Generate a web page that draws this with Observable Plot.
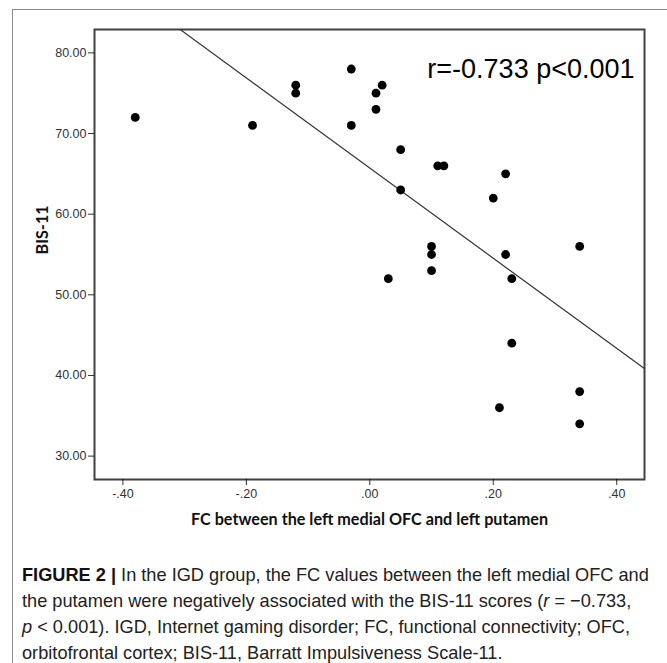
<!DOCTYPE html>
<html><head><meta charset="utf-8">
<script src="https://cdn.jsdelivr.net/npm/d3@7"></script>
<script src="https://cdn.jsdelivr.net/npm/@observablehq/plot@0.6"></script>
<style>
html,body{margin:0;padding:0;background:#fff;}
#wrap{position:relative;width:667px;height:663px;overflow:hidden;background:#fff;}
#frame{position:absolute;left:12px;top:9px;right:-5px;bottom:-5px;border-top:1.5px solid #8c8c8c;border-left:1.5px solid #8c8c8c;}
#chart{position:absolute;left:0;top:0;}
#caption{position:absolute;left:22px;top:562px;font-family:"Liberation Sans",Arial,sans-serif;font-size:18.2px;line-height:26px;color:#222;white-space:nowrap;}
#caption b{color:#111;}
</style></head><body>
<div id="wrap">
<div id="frame"></div>
<div id="chart"></div>
<div id="caption">
<div><b>FIGURE 2 |</b> In the IGD group, the FC values between the left medial OFC and</div>
<div>the putamen were negatively associated with the BIS-11 scores (<i>r</i> = −0.733,</div>
<div><i>p</i> &lt; 0.001). IGD, Internet gaming disorder; FC, functional connectivity; OFC,</div>
<div>orbitofrontal cortex; BIS-11, Barratt Impulsiveness Scale-11.</div>
</div>
</div>
<script>
const fcValues  = [-0.38, -0.19, -0.12, -0.12, -0.03, -0.03, 0.01, 0.01, 0.02, 0.05, 0.05, 0.03, 0.10, 0.10, 0.10, 0.11, 0.12, 0.20, 0.22, 0.22, 0.23, 0.23, 0.21, 0.34, 0.34, 0.34];
const bisScores = [72, 71, 76, 75, 78, 71, 75, 73, 76, 68, 63, 52, 56, 55, 53, 66, 66, 62, 65, 55, 52, 44, 36, 56, 38, 34];
const yTicks = [30, 40, 50, 60, 70, 80];
const xTicks = [-0.4, -0.2, 0, 0.2, 0.4];
const annotation = "r=-0.733 p<0.001";
const xLabel = "FC between the left medial OFC and left putamen";
const yLabel = "BIS-11";

const points = fcValues.map((x, i) => ({x, y: bisScores[i]}));
const xDomain = [-0.446, 0.445];
const yDomain = [27.1, 82.9];

// least-squares fit of the points
const mx = d3.mean(fcValues), my = d3.mean(bisScores);
const slope = d3.sum(points, d => (d.x - mx) * (d.y - my)) / d3.sum(points, d => (d.x - mx) ** 2);
const intercept = my - slope * mx;
const fitLine = xDomain.map(x => ({x, y: intercept + slope * x}));

const fmtX = d => d.toFixed(2).replace("0.", ".");

const chart = Plot.plot({
  width: 667, height: 540,
  marginLeft: 94, marginRight: 23, marginTop: 29, marginBottom: 61,
  x: {domain: xDomain, ticks: xTicks, tickFormat: fmtX, tickSize: 6, tickPadding: 4, label: null},
  y: {domain: yDomain, ticks: yTicks, tickFormat: d => d.toFixed(2), tickSize: 6, tickPadding: 2, label: null},
  style: {fontFamily: "'Liberation Sans',Arial,sans-serif", fontSize: "12.5px", color: "#333", background: "transparent"},
  marks: [
    Plot.frame({stroke: "black", strokeOpacity: 0.75, strokeWidth: 2}),
    Plot.line(fitLine, {x: "x", y: "y", stroke: "#333", strokeWidth: 1.2, clip: true}),
    Plot.dot(points, {x: "x", y: "y", r: 4.4, fill: "#000", stroke: "none"}),
    Plot.text([annotation], {frameAnchor: "top-right", text: d => d, dx: -10, dy: 29, lineAnchor: "top", textAnchor: "end", fontSize: 27, fontFamily: "'Liberation Sans',Arial,sans-serif", fill: "#000"}),
    Plot.text([xLabel], {frameAnchor: "bottom", text: d => d, dy: 40, lineAnchor: "middle", fontWeight: "bold", fontSize: 16.2, fontFamily: "Lato,sans-serif", fill: "#111"}),
    Plot.text([yLabel], {frameAnchor: "left", text: d => d, dx: -52, rotate: -90, lineAnchor: "middle", fontWeight: "bold", fontSize: 16.2, fontFamily: "Lato,sans-serif", fill: "#111"})
  ]
});
document.getElementById("chart").appendChild(chart);
</script>
</body></html>
